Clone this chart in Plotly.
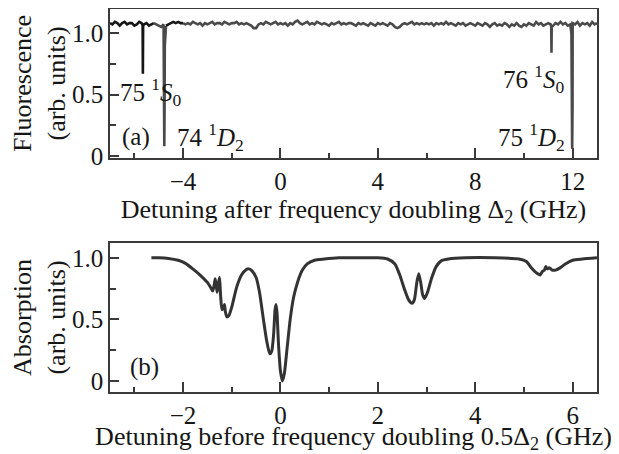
import plotly.graph_objects as go

# ---------------- data: panel (a) fluorescence vs detuning after doubling (GHz)
fl_x_start = -7.0
fl_x_step = 0.1
fl_y = [
    # -7.0 .. -5.2
    1.08, 1.07, 1.09, 1.08, 1.06, 1.08, 1.09, 1.07, 1.08, 1.08,
    1.06, 1.07, 1.09, 1.08, 1.07, 1.08, 1.06, 1.07, 1.08,
    # -5.1 .. -4.0
    1.07, 1.06, 1.05, 1.07, 1.06, 1.07, 1.08, 1.09, 1.08, 1.09, 1.08, 1.08,
    # -3.9 .. 13.0
    1.07, 1.08, 1.07, 1.09, 1.08, 1.07, 1.08, 1.06, 1.08, 1.07,
    1.08, 1.09, 1.07, 1.08, 1.08, 1.07, 1.09, 1.08, 1.07, 1.08,
    1.08, 1.09, 1.07, 1.08, 1.07, 1.08, 1.07, 1.06, 1.04, 1.04,
    1.07, 1.08, 1.07, 1.09, 1.08, 1.07, 1.08, 1.09, 1.07, 1.08,
    1.07, 1.08, 1.06, 1.08, 1.07, 1.09, 1.10, 1.08, 1.07, 1.08,
    1.09, 1.07, 1.08, 1.07, 1.09, 1.08, 1.07, 1.08, 1.07, 1.06,
    1.08, 1.07, 1.08, 1.09, 1.07, 1.08, 1.07, 1.08, 1.08, 1.07,
    1.06, 1.08, 1.07, 1.08, 1.07, 1.06, 1.08, 1.07, 1.06, 1.08,
    1.07, 1.08, 1.07, 1.06, 1.08, 1.07, 1.05, 1.04, 1.05, 1.07,
    1.08, 1.07, 1.08, 1.09, 1.07, 1.08, 1.07, 1.08, 1.07, 1.08,
    1.07, 1.08, 1.06, 1.08, 1.07, 1.08, 1.07, 1.09, 1.07, 1.08,
    1.07, 1.06, 1.08, 1.07, 1.08, 1.06, 1.07, 1.08, 1.07, 1.06,
    1.08, 1.07, 1.06, 1.08, 1.07, 1.05, 1.07, 1.08, 1.06, 1.07,
    1.06, 1.08, 1.07, 1.05, 1.07, 1.06, 1.08, 1.06, 1.05, 1.07,
    1.06, 1.08, 1.07, 1.06, 1.09, 1.07, 1.08, 1.06, 1.07, 1.08,
    1.07, 1.06, 1.08, 1.07, 1.09, 1.07, 1.08, 1.06, 1.07, 1.08,
    1.07, 1.09, 1.06, 1.08, 1.07, 1.08, 1.06, 1.09, 1.07, 1.08,
]
# narrow resonance dips (GHz, fluorescence)
dip_x = [-5.66, -5.65, -5.64,
         -4.79, -4.78, -4.77, -4.76, -4.75,
         11.12, 11.13, 11.14,
         11.95, 11.965, 11.98, 11.995]
dip_y = [1.06, 0.67, 1.06,
         0.90, 0.35, 0.08, 0.35, 0.90,
         1.05, 0.84, 1.05,
         1.00, 0.40, 0.06, 0.40]
# recorded scan segments (start, end, darker scan?)
fl_segments = [(-7.0, -5.2, True), (-5.2, -4.7, False), (-4.7, -4.0, True), (-4.0, 13.0, False)]

# ---------------- data: panel (b) absorption vs detuning before doubling
ab_x = [-2.65, -2.5, -2.3, -2.1, -1.95, -1.8, -1.65, -1.5, -1.42, -1.39,
        -1.36, -1.34, -1.32, -1.30, -1.27, -1.25, -1.23, -1.2, -1.17, -1.15,
        -1.13, -1.1, -1.06, -1.0, -0.9, -0.8, -0.7, -0.65, -0.6, -0.5,
        -0.43, -0.35, -0.28, -0.22, -0.18, -0.14, -0.11, -0.09, -0.07, -0.04,
        0.0, 0.04, 0.08, 0.14, 0.2, 0.27, 0.35, 0.45, 0.55, 0.7,
        0.9, 1.2, 1.6, 2.0, 2.2, 2.35, 2.45, 2.55, 2.63, 2.7,
        2.75, 2.8, 2.84, 2.88, 2.92, 2.96, 3.02, 3.1, 3.2, 3.3,
        3.45, 3.8, 4.4, 4.9, 5.05, 5.15, 5.25, 5.33, 5.38, 5.42,
        5.45, 5.48, 5.52, 5.58, 5.65, 5.75, 5.85, 6.0, 6.2, 6.5]
ab_y = [1.0, 1.0, 0.995, 0.98, 0.955, 0.91, 0.86, 0.8, 0.75, 0.73,
        0.78, 0.83, 0.78, 0.72, 0.8, 0.84, 0.7, 0.58, 0.59, 0.62,
        0.56, 0.52, 0.53, 0.6, 0.76, 0.86, 0.905, 0.91, 0.9, 0.84,
        0.72, 0.5, 0.32, 0.22, 0.24, 0.38, 0.58, 0.62, 0.55, 0.3,
        0.08, 0.0, 0.06, 0.28, 0.5, 0.68, 0.8, 0.9, 0.95, 0.98,
        0.99, 1.0, 1.0, 1.0, 0.99, 0.95, 0.86, 0.74, 0.66, 0.63,
        0.66, 0.8, 0.87, 0.8, 0.7, 0.67, 0.72, 0.83, 0.93, 0.975,
        0.99, 1.0, 1.0, 0.99, 0.97, 0.92, 0.88, 0.86, 0.89, 0.9,
        0.93, 0.91, 0.92, 0.9, 0.9, 0.92, 0.95, 0.98, 0.99, 1.0]

# tick labels
top_xticks = [-4, 0, 4, 8, 12]
top_xminor = [-6, -2, 2, 6, 10]
bot_xticks = [-2, 0, 2, 4, 6]
bot_xminor = [-3, -1, 1, 3, 5]
y_ticks = [0, 0.5, 1.0]
y_ticktext = ["0", "0.5", "1.0"]
y_minor = [0.25, 0.75]

# labels of the lines (text, x, y, anchor)
line_labels = [
    ("75 <sup>1</sup><i>S</i><sub>0</sub>", -6.67, 0.52, "left"),
    ("74 <sup>1</sup><i>D</i><sub>2</sub>", -4.33, 0.155, "left"),
    ("76 <sup>1</sup><i>S</i><sub>0</sub>", 11.75, 0.63, "right"),
    ("75 <sup>1</sup><i>D</i><sub>2</sub>", 11.75, 0.155, "right"),
]

# ---------------- build
fl_x_grid = [round(fl_x_start + i * fl_x_step, 3) for i in range(len(fl_y))]
pts = sorted(list(zip(fl_x_grid, fl_y)) + list(zip(dip_x, dip_y)))

FONT = "Liberation Serif, Times New Roman, serif"
TXT = "#161616"
AX = "#3a3a3a"


def neg(v):
    return ("−" + str(-v)) if v < 0 else str(v)


fig = go.Figure()
for a, b, dark in fl_segments:
    seg = [p for p in pts if a - 1e-9 <= p[0] <= b + 1e-9]
    fig.add_trace(go.Scatter(x=[p[0] for p in seg], y=[p[1] for p in seg], mode="lines",
                             xaxis="x", yaxis="y",
                             line=dict(color="#151515" if dark else "#4a4a4a", width=2.6),
                             showlegend=False))
fig.add_trace(go.Scatter(x=ab_x, y=ab_y, mode="lines", xaxis="x2", yaxis="y2",
                         line=dict(color="#333333", width=3, shape="spline", smoothing=0.6),
                         showlegend=False))

common_axis = dict(showline=True, linecolor=AX, linewidth=1.5, mirror=True,
                   showgrid=False, zeroline=False, ticks="inside", tickcolor=AX,
                   tickwidth=1.5, automargin=False,
                   tickfont=dict(family=FONT, size=25, color=TXT))

# the page body adds an 8px offset, so the figure is 8px smaller than the window
fig.update_layout(
    width=611, height=446,
    margin=dict(l=102, r=22, t=1, b=62),
    paper_bgcolor="white", plot_bgcolor="white",
    font=dict(family=FONT, size=25, color=TXT),
    xaxis=dict(common_axis, domain=[0, 1], anchor="y", range=[-7, 13],
               tickvals=top_xticks, ticktext=[neg(v) for v in top_xticks],
               ticklen=10,
               minor=dict(tickvals=top_xminor, ticks="inside", ticklen=5, tickcolor=AX, tickwidth=1.5),
               title=dict(text="Detuning after frequency doubling Δ<sub>2</sub> (GHz)",
                          font=dict(family=FONT, size=26, color=TXT), standoff=1)),
    yaxis=dict(common_axis, domain=[0.611, 1], anchor="x", range=[-0.015, 1.195],
               tickvals=y_ticks, ticktext=y_ticktext, ticklen=9,
               minor=dict(tickvals=y_minor, ticks="inside", ticklen=6, tickcolor=AX, tickwidth=1.5),
               title=dict(text="Fluorescence<br>(arb. units)",
                          font=dict(family=FONT, size=26, color=TXT), standoff=4)),
    xaxis2=dict(common_axis, domain=[0, 1], anchor="y2", range=[-3.5, 6.5],
                tickvals=bot_xticks, ticktext=[neg(v) for v in bot_xticks],
                ticklen=10,
                minor=dict(tickvals=bot_xminor, ticks="inside", ticklen=5, tickcolor=AX, tickwidth=1.5),
                title=dict(text="Detuning before frequency doubling 0.5Δ<sub>2</sub> (GHz)",
                           font=dict(family=FONT, size=26, color=TXT), standoff=2)),
    yaxis2=dict(common_axis, domain=[0, 0.389], anchor="x2", range=[-0.09, 1.12],
                tickvals=y_ticks, ticktext=y_ticktext, ticklen=9,
                minor=dict(tickvals=y_minor, ticks="inside", ticklen=6, tickcolor=AX, tickwidth=1.5),
                title=dict(text="Absorption<br>(arb. units)",
                           font=dict(family=FONT, size=26, color=TXT), standoff=4)),
)

for text, x, y, anchor in line_labels:
    fig.add_annotation(x=x, y=y, xref="x", yref="y", text=text, showarrow=False,
                       xanchor=anchor, yanchor="middle",
                       font=dict(family=FONT, size=25, color=TXT))
fig.add_annotation(x=-6.59, y=0.155, xref="x", yref="y", text="(a)", showarrow=False,
                   xanchor="left", yanchor="middle", font=dict(family=FONT, size=25, color=TXT))
fig.add_annotation(x=-3.13, y=0.11, xref="x2", yref="y2", text="(b)", showarrow=False,
                   xanchor="left", yanchor="middle", font=dict(family=FONT, size=25, color=TXT))

fig.write_html("out.html")
